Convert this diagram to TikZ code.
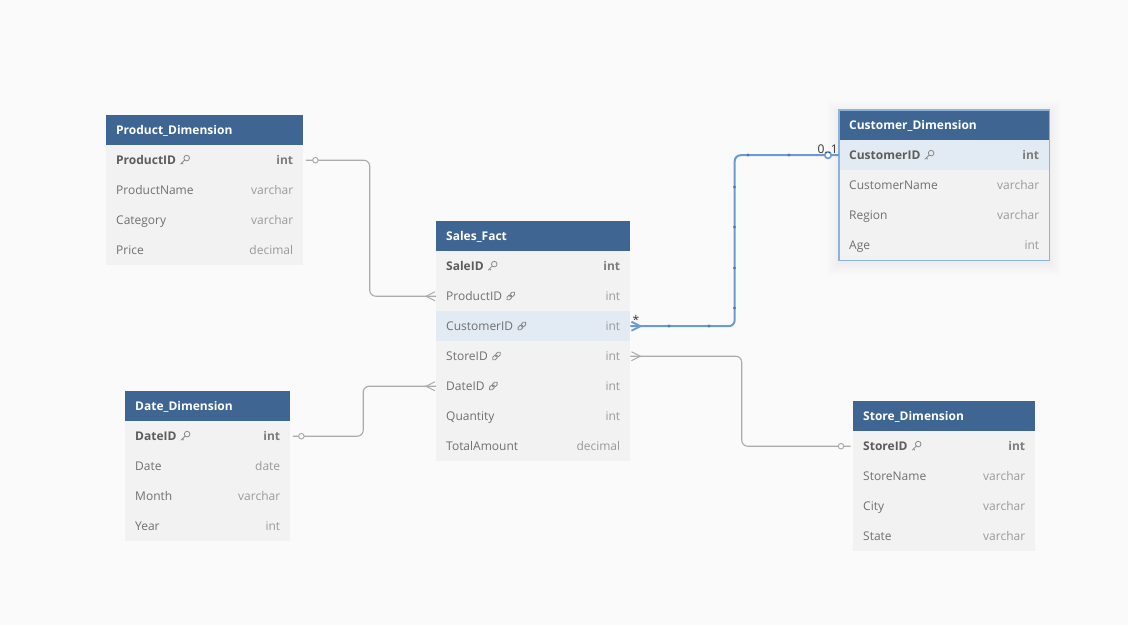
\documentclass[tikz,border=0pt]{standalone}
\usepackage{fontspec}
\setmainfont{Open Sans}
\usetikzlibrary{calc}
\definecolor{bgc}{HTML}{FAFAFA}
\definecolor{hdrc}{HTML}{3F6592}
\definecolor{rowc}{HTML}{F2F2F2}
\definecolor{hlc}{HTML}{E2EBF3}
\definecolor{namec}{HTML}{707070}
\definecolor{typec}{HTML}{9A9A9A}
\definecolor{pkc}{HTML}{5C5C5C}
\definecolor{pktc}{HTML}{7C7C7C}
\definecolor{gline}{HTML}{ABABAB}
\definecolor{bline}{HTML}{6C9BD2}
\definecolor{bdot}{HTML}{4C7BB5}
\definecolor{selc}{HTML}{8DB2DC}
\definecolor{iconc}{HTML}{8A8A8A}
\tikzset{
  hdrbox/.style={fill=hdrc,draw=none,minimum height=30pt,inner sep=0pt},
  hdrtext/.style={text=white,font=\fontsize{12}{13}\selectfont\bfseries,inner sep=0pt},
  rowbox/.style={fill=rowc,draw=none,minimum height=30pt,inner sep=0pt},
  hlrow/.style={fill=hlc},
  plainrow/.style={},
  ftext/.style={text=namec,font=\fontsize{12}{13}\selectfont},
  ttext/.style={text=typec,font=\fontsize{12}{13}\selectfont},
  pktext/.style={text=pkc,font=\fontsize{12}{13}\selectfont\bfseries},
  pkttext/.style={text=pktc,font=\fontsize{12}{13}\selectfont\bfseries},
  gconn/.style={draw=gline,line width=1.1pt,rounded corners=6pt},
  bconn/.style={draw=bline,line width=2pt,rounded corners=6pt},
  gcirc/.style={circle,draw=gline,line width=1pt,fill=bgc,minimum size=5.5pt,inner sep=0pt},
  bcirc/.style={circle,draw=bline,line width=1.6pt,fill=white,minimum size=6.5pt,inner sep=0pt},
  bhandle/.style={circle,fill=bdot,minimum size=3.4pt,inner sep=0pt},
  cardtext/.style={text=black!80,font=\fontsize{12}{13}\selectfont,inner sep=0pt},
  erkeypic/.pic={
    \begin{scope}[x=1pt,y=1pt]
    \draw[iconc,line width=0.8pt] (1.9,1.9) circle (2.8);
    \draw[iconc,line width=0.8pt,line cap=round] (0.0,0.0) -- (-4.2,-4.2);
    \draw[iconc,line width=0.8pt,line cap=round] (-2.8,-2.8) -- (-1.6,-4.0);
    \end{scope}
  },
  erlinkpic/.pic={
    \begin{scope}[x=1pt,y=1pt,rotate=45]
    \draw[iconc,line width=0.9pt,rounded corners=1.7pt] (-5.2,-1.8) rectangle (0.9,1.8);
    \draw[iconc,line width=0.9pt,rounded corners=1.7pt] (-0.9,-1.8) rectangle (5.2,1.8);
    \end{scope}
  }
}
% #1 name, #2 x, #3 top y, #4 width, #5 field, #6 type, #7 row style, #8 field text style, #9 type text style
\newcommand\errow[9]{%
  \node[rowbox,#7,minimum width=#4,anchor=north west] (#1) at (#2,#3) {};
  \node[#8,anchor=base west,inner sep=0pt] (#1n) at ($(#1.west)+(10,4.4)$) {#5};
  \node[#9,anchor=base east,inner sep=0pt] (#1t) at ($(#1.east)+(-10,4.4)$) {#6};
}
\newcommand\erhead[5]{%
  \node[hdrbox,minimum width=#4,anchor=north west] (#1) at (#2,#3) {};
  \node[hdrtext,anchor=base west] (#1h) at ($(#1.west)+(10,4.4)$) {#5};
}
\newcommand\erkey[1]{\pic at ($(#1n.base east)+(8.5,-4.6)$) {erkeypic};}
\newcommand\erlink[1]{\pic at ($(#1n.base east)+(8.5,-4.6)$) {erlinkpic};}
\begin{document}
\begin{tikzpicture}[x=1pt,y=-1pt]
\useasboundingbox[fill=bgc] (0,0) rectangle (1128,625);

% Product_Dimension
\erhead{P}{106}{115}{197pt}{Product\_Dimension}
\errow{P1}{106}{145}{197pt}{ProductID}{int}{plainrow}{pktext}{pkttext}
\errow{P2}{106}{175}{197pt}{ProductName}{varchar}{plainrow}{ftext}{ttext}
\errow{P3}{106}{205}{197pt}{Category}{varchar}{plainrow}{ftext}{ttext}
\errow{P4}{106}{235}{197pt}{Price}{decimal}{plainrow}{ftext}{ttext}
\erkey{P1}

% Sales_Fact
\erhead{S}{436}{221}{194pt}{Sales\_Fact}
\errow{S1}{436}{251}{194pt}{SaleID}{int}{plainrow}{pktext}{pkttext}
\errow{S2}{436}{281}{194pt}{ProductID}{int}{plainrow}{ftext}{ttext}
\errow{S3}{436}{311}{194pt}{CustomerID}{int}{hlrow}{ftext}{ttext}
\errow{S4}{436}{341}{194pt}{StoreID}{int}{plainrow}{ftext}{ttext}
\errow{S5}{436}{371}{194pt}{DateID}{int}{plainrow}{ftext}{ttext}
\errow{S6}{436}{401}{194pt}{Quantity}{int}{plainrow}{ftext}{ttext}
\errow{S7}{436}{431}{194pt}{TotalAmount}{decimal}{plainrow}{ftext}{ttext}
\erkey{S1}
\erlink{S2}
\erlink{S3}
\erlink{S4}
\erlink{S5}

% Customer_Dimension (selected) with soft shadow
\foreach \s in {1,2,...,12}
  \fill[black,opacity=0.004] (839-\s,110-\s+3) rectangle (1049+\s,260+\s+3);
\erhead{C}{839}{110}{210pt}{Customer\_Dimension}
\errow{C1}{839}{140}{210pt}{CustomerID}{int}{hlrow}{pktext}{pkttext}
\errow{C2}{839}{170}{210pt}{CustomerName}{varchar}{plainrow}{ftext}{ttext}
\errow{C3}{839}{200}{210pt}{Region}{varchar}{plainrow}{ftext}{ttext}
\errow{C4}{839}{230}{210pt}{Age}{int}{plainrow}{ftext}{ttext}
\erkey{C1}
\draw[selc,line width=1.5pt] (C.north west) rectangle (C4.south east);

% Date_Dimension
\erhead{D}{125}{391}{165pt}{Date\_Dimension}
\errow{D1}{125}{421}{165pt}{DateID}{int}{plainrow}{pktext}{pkttext}
\errow{D2}{125}{451}{165pt}{Date}{date}{plainrow}{ftext}{ttext}
\errow{D3}{125}{481}{165pt}{Month}{varchar}{plainrow}{ftext}{ttext}
\errow{D4}{125}{511}{165pt}{Year}{int}{plainrow}{ftext}{ttext}
\erkey{D1}

% Store_Dimension
\erhead{T}{853}{401}{182pt}{Store\_Dimension}
\errow{T1}{853}{431}{182pt}{StoreID}{int}{plainrow}{pktext}{pkttext}
\errow{T2}{853}{461}{182pt}{StoreName}{varchar}{plainrow}{ftext}{ttext}
\errow{T3}{853}{491}{182pt}{City}{varchar}{plainrow}{ftext}{ttext}
\errow{T4}{853}{521}{182pt}{State}{varchar}{plainrow}{ftext}{ttext}
\erkey{T1}

% Connectors (grey)
\draw[gconn,shorten <=2.5pt] (P1.east) -| ($(P1.east)!.5!(S2.west)$) |- (S2.west);
\node[gcirc] (pc) at ($(P1.east)+(12,0)$) {};
\draw[gline,line width=1pt] ($(S2.west)+(-1,-4.5)$) -- ($(S2.west)+(-10,0)$) -- ($(S2.west)+(-1,4.5)$);

\draw[gconn,shorten <=2.5pt] (D1.east) -| ($(D1.east)!.5!(S5.west)$) |- (S5.west);
\node[gcirc] (dc) at ($(D1.east)+(11,0)$) {};
\draw[gline,line width=1pt] ($(S5.west)+(-1,-4.5)$) -- ($(S5.west)+(-10,0)$) -- ($(S5.west)+(-1,4.5)$);

\draw[gconn,shorten >=2.5pt] (S4.east) -| ($(S4.east)!.5!(T1.west)$) |- (T1.west);
\node[gcirc] (tc) at ($(T1.west)+(-12,0)$) {};
\draw[gline,line width=1pt] ($(S4.east)+(1,-4.5)$) -- ($(S4.east)+(10,0)$) -- ($(S4.east)+(1,4.5)$);

% Connector (blue, selected)
\draw[bconn] (S3.east) -| ($(S3.east)!.5!(C1.west)$) |- (C1.west);
\draw[bline,line width=1.8pt,line join=miter] ($(S3.east)+(1,-4.5)$) -- ($(S3.east)+(10,0)$) -- ($(S3.east)+(1,4.5)$);
\node[bcirc] (cc) at ($(C1.west)+(-11,0)$) {};
\foreach \p in {(669,326),(709,326),(734.5,308),(734.5,268),(734.5,227),(734.5,187),(748,155),(789,155)}
  \node[bhandle] at \p {};
\node[cardtext,anchor=south west] (star) at ($(S3.east)+(2,-2)$) {*};
\node[cardtext,anchor=south east] (card) at ($(C1.west)+(-1,-1.5)$) {0..1};
\end{tikzpicture}
\end{document}
